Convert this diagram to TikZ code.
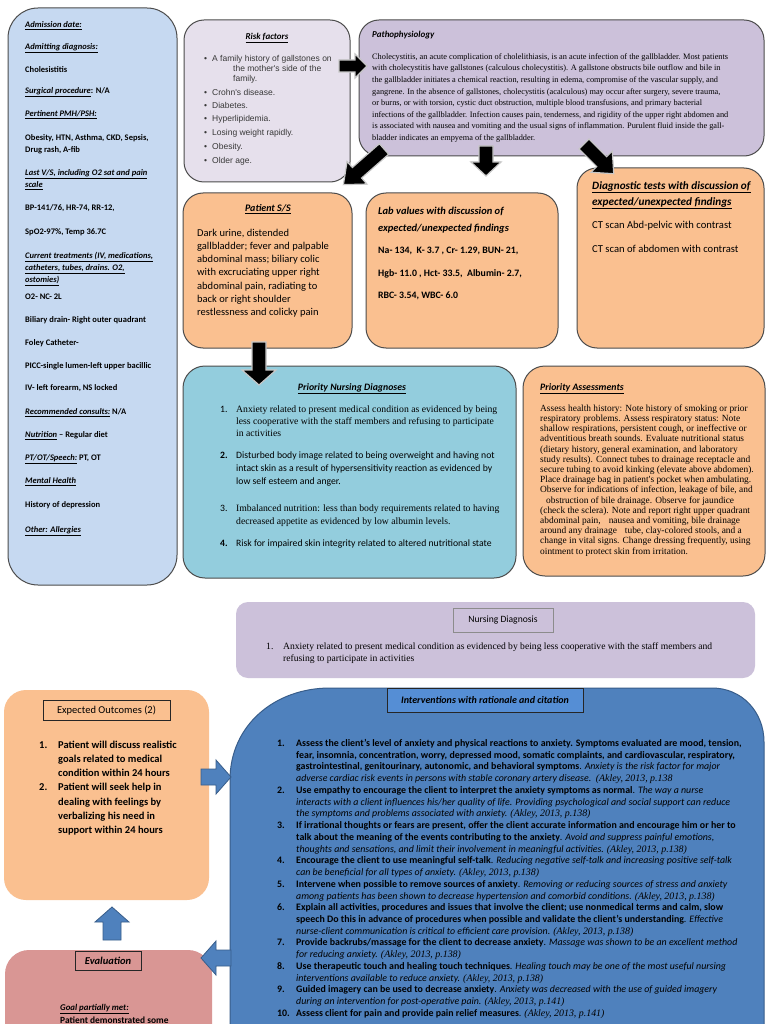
\documentclass[tikz,border=0pt]{standalone}
\usepackage{fontspec}
\setmainfont{Carlito}
\newfontfamily\tnr{Liberation Serif}
\newfontfamily\arl{Liberation Sans}
\usetikzlibrary{calc}
\definecolor{panelblue}{HTML}{C6D9F1}
\definecolor{lilac}{HTML}{E6E0EC}
\definecolor{lav}{HTML}{CCC1DA}
\definecolor{peach}{HTML}{FAC090}
\definecolor{aqua}{HTML}{93CDDD}
\definecolor{ivblue}{HTML}{4F81BD}
\definecolor{ivtitle}{HTML}{558ED5}
\definecolor{rose}{HTML}{D99694}
\definecolor{arrline}{HTML}{385D8A}
\newcommand\fs[1]{\fontsize{#1}{#1}\selectfont}
\newcommand\cit[1]{{\tnr\itshape #1}}
\newcommand\ttl[1]{\underline{\textbf{\textit{#1}}}}
\newcommand\blockarrow[8]{%
  \begin{scope}[shift={(#2,#3)},rotate=#4]
  \path[#1] (0,-#6) -- ({#5-#8},-#6) -- ({#5-#8},-#7) -- (#5,0) -- ({#5-#8},#7) -- ({#5-#8},#6) -- (0,#6) -- cycle;
  \end{scope}}
\begin{document}
\begin{tikzpicture}[x=1pt,y=-1pt,
  bx/.style={inner sep=0pt, outer sep=0pt},
  frame/.style={bx, draw=black!70, line width=1pt},
  T/.style={inner sep=0pt, anchor=mid west},
  C/.style={inner sep=0pt, anchor=mid},
  blackarr/.style={fill=black, draw=black!22, line width=1.2pt},
  bluearr/.style={fill=ivblue, draw=arrline, line width=0.8pt}]
\useasboundingbox (0,0) rectangle (768,1024);
\fill[white] (0,0) rectangle (768,1024);

% ---------- boxes ----------
\node[frame, fill=panelblue, rounded corners=30pt, minimum width=169pt, minimum height=577pt] (leftp) at (92.5,296.5) {};
\node[frame, fill=lilac, rounded corners=20pt, minimum width=166pt, minimum height=162pt] (risk) at (267,101) {};
\node[frame, fill=lav, rounded corners=20pt, minimum width=405pt, minimum height=136pt] (patho) at (561.5,88) {};
\node[frame, fill=peach, rounded corners=20pt, minimum width=169pt, minimum height=155pt] (pss) at (267.5,270.5) {};
\node[frame, fill=peach, rounded corners=20pt, minimum width=192pt, minimum height=155pt] (lab) at (462,270.5) {};
\node[frame, fill=peach, rounded corners=20pt, minimum width=187pt, minimum height=180pt] (diag) at (670.5,258) {};
\node[frame, fill=aqua, rounded corners=22pt, minimum width=333pt, minimum height=212pt] (pnd) at (349.5,472) {};
\node[frame, fill=peach, rounded corners=22pt, minimum width=242pt, minimum height=210pt] (pa) at (644,471) {};
\node[bx, fill=lav, rounded corners=12pt, minimum width=519pt, minimum height=76pt] (nd) at (495.5,640) {};
\node[bx, fill=peach, rounded corners=22pt, minimum width=205pt, minimum height=210pt] (eo) at (106.5,795) {};
\node[bx, fill=rose, rounded corners=24pt, minimum width=207pt, minimum height=100pt] (ev) at (108.5,1000) {};
\path[fill=ivblue, draw=arrline, line width=1pt] (230,1040) -- (230,780) .. controls (230,725) and (275,688) .. (330,688) -- (712,688) .. controls (742,688) and (764,712) .. (764,742) -- (764,1040) -- cycle;
\coordinate (ivbox) at (497,860);

% ---------- arrows ----------
\blockarrow{blackarr}{339}{66}{0}{28}{6}{12}{12}
\blockarrow{blackarr}{384}{149}{-138.7}{54}{7}{15}{18}
\blockarrow{blackarr}{486}{146}{-90}{30}{7}{15}{14}
\blockarrow{blackarr}{584}{144}{-45}{42}{7}{15}{17}
\blockarrow{blackarr}{259}{342}{-90}{43}{7}{17}{15}
\blockarrow{bluearr}{201}{777}{0}{30}{8}{17}{15}
\blockarrow{bluearr}{112}{940}{90}{33}{9}{17}{15}
\blockarrow{bluearr}{231}{958}{180}{30}{8}{17}{15}

% ---------- left panel ----------
\begin{scope}[every node/.style={T, font=\fs{8.5}\bfseries}]
\node (l1) at (25,25) {\ttl{Admission date:}};
\node (l2) at (25,47) {\ttl{Admitting diagnosis:}};
\node (l3) at (25,70) {Cholesistitis};
\node (l4) at (25,91) {\ttl{Surgical procedure}: N/A};
\node (l5) at (25,114) {\ttl{Pertinent PMH/PSH:}};
\node (l6) at (25,138) {Obesity, HTN, Asthma, CKD, Sepsis,};
\node (l7) at (25,150) {Drug rash, A-fib};
\node (l8) at (25,173) {\ttl{Last V/S, including O2 sat and pain}};
\node (l9) at (25,185) {\ttl{scale}};
\node (l10) at (25,208) {BP-141/76, HR-74, RR-12,};
\node (l11) at (25,232) {SpO2-97\%, Temp 36.7C};
\node (l12) at (25,256) {\ttl{Current treatments (IV, medications,}};
\node (l13) at (25,268) {\ttl{catheters, tubes, drains. O2,}};
\node (l14) at (25,280) {\ttl{ostomies)}};
\node (l15) at (25,297) {O2- NC- 2L};
\node (l16) at (25,320) {Biliary drain- Right outer quadrant};
\node (l17) at (25,343) {Foley Catheter-};
\node (l18) at (25,366) {PICC-single lumen-left upper bacillic};
\node (l19) at (25,388) {IV- left forearm, NS locked};
\node (l20) at (25,412) {\ttl{Recommended consults:} N/A};
\node (l21) at (25,435) {\ttl{Nutrition} -- Regular diet};
\node (l22) at (25,458) {\ttl{PT/OT/Speech:} PT, OT};
\node (l23) at (25,481) {\ttl{Mental Health}};
\node (l24) at (25,505) {History of depression};
\node (l25) at (25,530) {\ttl{Other: Allergies}};
\end{scope}

% ---------- risk factors ----------
\node[C, font=\fs{9}] (rt) at (267,37) {\ttl{Risk factors}};
\begin{scope}[every node/.style={T, font=\arl\fs{8.5}, text=black!78}]
\foreach \yy/\tx [count=\i] in {59/{A family history of gallstones on},93/{Crohn's disease.},106/{Diabetes.},119/{Hyperlipidemia.},133/{Losing weight rapidly.},147/{Obesity.},161/{Older age.}}{
  \node (rb\i) at (204,\yy) {\textbullet};
  \node (rf\i) at (212,\yy) {\tx};}
\node (rf8) at (233,69) {the mother's side of the};
\node (rf9) at (233,79) {family.};
\end{scope}

% ---------- pathophysiology ----------
\node[T, font=\fs{9}\bfseries\itshape] (pt) at (372,35) {Pathophysiology};
\foreach \tx [count=\k from 0] in {
 {Cholecystitis, an acute complication of cholelithiasis, is an acute infection of the gallbladder. Most patients},
 {with cholecystitis have gallstones (calculous cholecystitis). A gallstone obstructs bile outflow and bile in},
 {the gallbladder initiates a chemical reaction, resulting in edema, compromise of the vascular supply, and},
 {gangrene. In the absence of gallstones, cholecystitis (acalculous) may occur after surgery, severe trauma,},
 {or burns, or with torsion, cystic duct obstruction, multiple blood transfusions, and primary bacterial},
 {infections of the gallbladder. Infection causes pain, tenderness, and rigidity of the upper right abdomen and},
 {is associated with nausea and vomiting and the usual signs of inflammation. Purulent fluid inside the gall-},
 {bladder indicates an empyema of the gallbladder.}}
 {\node[T, font=\tnr\fs{8.3}] (pb\k) at (372,57+11.6*\k) {\tx};}

% ---------- patient S/S ----------
\node[C, font=\fs{10}] (st) at (268,209) {\ttl{Patient S/S}};
\foreach \tx [count=\k from 0] in {
 {Dark urine, distended},{gallbladder; fever and palpable},{abdominal mass; biliary colic},
 {with excruciating upper right},{abdominal pain, radiating to},{back or right shoulder},
 {restlessness and colicky pain}}
 {\node[T, font=\fs{10.5}] (sb\k) at (197,234+13.2*\k) {\tx};}

% ---------- lab values ----------
\node[T, font=\fs{10.5}\bfseries\itshape] (lt1) at (378,212) {Lab values with discussion of};
\node[T, font=\fs{10.5}\bfseries\itshape] (lt2) at (378,229) {expected/unexpected findings};
\node[T, font=\fs{9.8}\bfseries] (lv1) at (378,251) {Na- 134,\ \ K- 3.7 , Cr- 1.29, BUN- 21,};
\node[T, font=\fs{9.8}\bfseries] (lv2) at (378,274) {Hgb- 11.0 , Hct- 33.5,\ \ Albumin- 2.7,};
\node[T, font=\fs{9.8}\bfseries] (lv3) at (378,296) {RBC- 3.54, WBC- 6.0};

% ---------- diagnostic tests ----------
\node[T, font=\fs{11.2}] (dt1) at (592,187) {\ttl{Diagnostic tests with discussion of}};
\node[T, font=\fs{11.2}] (dt2) at (592,203) {\ttl{expected/unexpected findings}};
\node[T, font=\fs{10.6}] (dv1) at (592,226) {CT scan Abd-pelvic with contrast};
\node[T, font=\fs{10.6}] (dv2) at (592,250) {CT scan of abdomen with contrast};

% ---------- priority nursing diagnoses ----------
\node[C, font=\fs{9.8}] (ndt) at (352,388) {\ttl{Priority Nursing Diagnoses}};
\begin{scope}[every node/.style={T, font=\fs{9.7}}]
\node (pn1) at (220,410) {1.};
\node (pn2) at (220,456) {\bfseries 2.};
\node (pn3) at (220,509) {3.};
\node (pn4) at (220,544) {\bfseries 4.};
\node[font=\tnr\fs{9.7}] (pd1) at (236,410) {Anxiety related to present medical condition as evidenced by being};
\node[font=\tnr\fs{9.7}] (pd2) at (236,422) {less cooperative with the staff members and refusing to participate};
\node[font=\tnr\fs{9.7}] (pd3) at (236,434) {in activities};
\node (pd4) at (236,456) {Disturbed body image related to being overweight and having not};
\node (pd5) at (236,469) {intact skin as a result of hypersensitivity reaction as evidenced by};
\node (pd6) at (236,482) {low self esteem and anger.};
\node[font=\tnr\fs{9.7}] (pd7) at (236,509) {Imbalanced nutrition: less than body requirements related to having};
\node[font=\tnr\fs{9.7}] (pd8) at (236,522) {decreased appetite as evidenced by low albumin levels.};
\node (pd9) at (236,544) {Risk for impaired skin integrity related to altered nutritional state};
\end{scope}

% ---------- priority assessments ----------
\node[T, font=\fs{9.8}] (pat) at (540,388) {\ttl{Priority Assessments}};
\foreach \tx [count=\k from 0] in {
 {Assess health history: Note history of smoking or prior},
 {respiratory problems. Assess respiratory status: Note},
 {shallow respirations, persistent cough, or ineffective or},
 {adventitious breath sounds. Evaluate nutritional status},
 {(dietary history, general examination, and laboratory},
 {study results). Connect tubes to drainage receptacle and},
 {secure tubing to avoid kinking (elevate above abdomen).},
 {Place drainage bag in patient's pocket when ambulating.},
 {Observe for indications of infection, leakage of bile, and},
 {\hspace{6pt}obstruction of bile drainage. Observe for jaundice},
 {(check the sclera). Note and report right upper quadrant},
 {abdominal pain,\hspace{8pt}nausea and vomiting, bile drainage},
 {around any drainage\hspace{8pt}tube, clay-colored stools, and a},
 {change in vital signs. Change dressing frequently, using},
 {ointment to protect skin from irritation.}}
 {\node[T, font=\tnr\fs{9.4}] (pa\k) at (540,409+10.2*\k) {\tx};}

% ---------- nursing diagnosis ----------
\node[bx, draw=black!45, line width=0.6pt, minimum width=100pt, minimum height=24pt, font=\fs{9.6}] (ndtitle) at (503,620) {Nursing Diagnosis};
\node[T, font=\tnr\fs{9.6}] (ndn) at (266,647) {1.};
\node[T, font=\tnr\fs{9.6}] (nd1) at (283,647) {Anxiety related to present medical condition as evidenced by being less cooperative with the staff members and};
\node[T, font=\tnr\fs{9.6}] (nd2) at (283,659) {refusing to participate in activities};

% ---------- expected outcomes ----------
\node[bx, draw=black!85, line width=0.7pt, minimum width=127pt, minimum height=20pt, font=\fs{10.5}] (eot) at (106.5,710) {Expected Outcomes (2)};
\begin{scope}[every node/.style={T, font=\fs{10.5}\bfseries}]
\node (eon1) at (39,746) {1.};
\node (eon2) at (39,788.6) {2.};
\foreach \tx [count=\k from 0] in {
 {Patient will discuss realistic},{goals related to medical},{condition within 24 hours},
 {Patient will seek help in},{dealing with feelings by},{verbalizing his need in},{support within 24 hours}}
 {\node (eo\k) at (58,746+14.2*\k) {\tx};}
\end{scope}

% ---------- interventions ----------
\node[bx, draw=black!85, fill=ivtitle, line width=0.8pt, minimum width=196pt, minimum height=24pt, font=\fs{10}\bfseries\itshape] (ivt) at (485,700) {Interventions with rationale and citation};
\foreach \n/\k in {1/0,2/4,3/7,4/10,5/12,6/14,7/17,8/19,9/21,10/23}
 {\node[T, font=\fs{9.9}\bfseries] (num\n) at (277,744+11.74*\k) {\n.};}
\foreach \tx [count=\k from 0] in {
 {\textbf{Assess the client's level of anxiety and physical reactions to anxiety. Symptoms evaluated are mood, tension,}},
 {\textbf{fear, insomnia, concentration, worry, depressed mood, somatic complaints, and cardiovascular, respiratory,}},
 {\textbf{gastrointestinal, genitourinary, autonomic, and behavioral symptoms}. \textit{Anxiety is the risk factor for major}},
 {\textit{adverse cardiac risk events in persons with stable coronary artery disease.}\ \ \cit{(Akley, 2013, p.138}},
 {\textbf{Use empathy to encourage the client to interpret the anxiety symptoms as normal}. \textit{The way a nurse}},
 {\textit{interacts with a client influences his/her quality of life. Providing psychological and social support can reduce}},
 {\textit{the symptoms and problems associated with anxiety.} \cit{(Akley, 2013, p.138)}},
 {\textbf{If irrational thoughts or fears are present, offer the client accurate information and encourage him or her to}},
 {\textbf{talk about the meaning of the events contributing to the anxiety}. \textit{Avoid and suppress painful emotions,}},
 {\textit{thoughts and sensations, and limit their involvement in meaningful activities.} \cit{(Akley, 2013, p.138)}},
 {\textbf{Encourage the client to use meaningful self-talk}. \textit{Reducing negative self-talk and increasing positive self-talk}},
 {\textit{can be beneficial for all types of anxiety.} \cit{(Akley, 2013, p.138)}},
 {\textbf{Intervene when possible to remove sources of anxiety}. \textit{Removing or reducing sources of stress and anxiety}},
 {\textit{among patients has been shown to decrease hypertension and comorbid conditions.} \cit{(Akley, 2013, p.138)}},
 {\textbf{Explain all activities, procedures and issues that involve the client; use nonmedical terms and calm, slow}},
 {\textbf{speech Do this in advance of procedures when possible and validate the client's understanding}. \textit{Effective}},
 {\textit{nurse-client communication is critical to efficient care provision.} \cit{(Akley, 2013, p.138)}},
 {\textbf{Provide backrubs/massage for the client to decrease anxiety}. \textit{Massage was shown to be an excellent method}},
 {\textit{for reducing anxiety.} \cit{(Akley, 2013, p.138)}},
 {\textbf{Use therapeutic touch and healing touch techniques}. \textit{Healing touch may be one of the most useful nursing}},
 {\textit{interventions available to reduce anxiety.} \cit{(Akley, 2013, p.138)}},
 {\textbf{Guided imagery can be used to decrease anxiety}. \textit{Anxiety was decreased with the use of guided imagery}},
 {\textit{during an intervention for post-operative pain.} \cit{(Akley, 2013, p.141)}},
 {\textbf{Assess client for pain and provide pain relief measures}. \cit{(Akley, 2013, p.141)}}}
 {\node[T, font=\fs{9.9}] (iv\k) at (296,744+11.74*\k) {\tx};}

% ---------- evaluation ----------
\node[bx, draw=black!85, line width=0.7pt, minimum width=66pt, minimum height=19pt, font=\fs{10.5}\bfseries\itshape] (evt) at (108,961) {Evaluation};
\node[T, font=\fs{8.8}] (ev1) at (60,1008) {\ttl{Goal partially met:}};
\node[T, font=\fs{9.4}\bfseries] (ev2) at (60,1021) {Patient demonstrated some};
\end{tikzpicture}
\end{document}
